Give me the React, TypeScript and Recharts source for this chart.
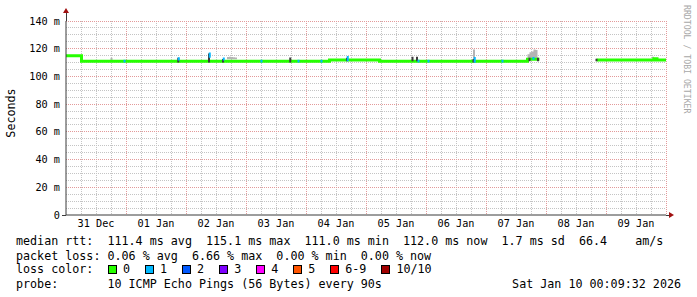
import React from 'react';
import { ComposedChart, Line, XAxis, YAxis, CartesianGrid } from 'recharts';

// time is in hours since 31 Dec 00:00, values in ms
const medianHours = [0, 6.2, 105.4, 125.4, 184.6, 189.4, 189.5, 212.2, 235.2, 236.4, 240];
const medianMs = [115, 110.9, 111.9, 110.9, 112.4, 112.4, null, 111.9, 112.8, 111.9, 111.9];

// grey smoke (ping spread) around the median
const smokeHours = [18.2, 64.8, 65.6, 66.4, 67.2, 68.0, 163.2, 185.0, 185.8, 186.6, 187.4, 188.2, 234.8];
const smokeLow = [111.8, 112.4, 112.4, 112.4, 112.4, 112.4, 112.0, 113.0, 113.0, 113.0, 113.0, 113.0, 113.0];
const smokeHigh = [113.5, 114.0, 114.2, 114.0, 113.8, 113.6, 119.5, 116.0, 117.5, 118.0, 119.5, 119.0, 114.2];

// dark smoke core
const darkHours = [44.9, 57.2, 62.8, 89.7, 112.4, 138.6, 140.4, 163.0, 185.4, 188.8, 212.2];
const darkLow = [110.0, 110.0, 110.0, 110.0, 111.0, 111.0, 111.0, 110.0, 111.0, 111.0, 111.0];
const darkHigh = [113.5, 116.5, 112.5, 113.6, 113.5, 114.2, 114.2, 112.5, 113.5, 113.5, 112.8];

// samples with 1/10 loss
const loss1Hours = [23.4, 45.1, 57.5, 63.1, 78.2, 93.0, 102.2, 112.7, 141.0, 145.0, 163.5, 174.6, 187.0];
const loss1Low = [110.0, 111.5, 113.5, 111.5, 110.0, 110.0, 110.0, 111.0, 110.0, 110.0, 109.8, 110.0, 112.0];
const loss1High = [112.0, 113.8, 117.2, 113.6, 112.0, 112.0, 112.0, 114.8, 112.0, 112.0, 114.0, 112.0, 114.0];

const yTicks = [0, 20, 40, 60, 80, 100, 120, 140];
const yMinor = [5, 10, 15, 25, 30, 35, 45, 50, 55, 65, 70, 75, 85, 90, 95, 105, 110, 115, 125, 130, 135];
const dayHours = [24, 48, 72, 96, 120, 144, 168, 192, 216, 240];
const sixHours = [6, 12, 18, 30, 36, 42, 54, 60, 66, 78, 84, 90, 102, 108, 114, 126, 132, 138, 150, 156, 162, 174, 180, 186, 198, 204, 210, 222, 228, 234];
const labelHours = [12, 36, 60, 84, 108, 132, 156, 180, 204, 228];
const dayLabels = ['31 Dec', '01 Jan', '02 Jan', '03 Jan', '04 Jan', '05 Jan', '06 Jan', '07 Jan', '08 Jan', '09 Jan'];

const lossLabels = ['0', '1', '2', '3', '4', '5', '6-9', '10/10'];
const lossColors = ['#26ff00', '#00b8ff', '#0059ff', '#7e00ff', '#ff00ff', '#ff5500', '#ff0000', '#a10000'];

const medianLine = 'median rtt:  111.4 ms avg  115.1 ms max  111.0 ms min  112.0 ms now  1.7 ms sd  66.4    am/s';
const lossLine = 'packet loss: 0.06 % avg  6.66 % max  0.00 % min  0.00 % now';
const probeText = '10 ICMP Echo Pings (56 Bytes) every 90s';
const stampText = 'Sat Jan 10 00:09:32 2026';

const mono = 'DejaVu Sans Mono, monospace';
const axisColor = '#3a3a3a';
const arrowColor = '#a01010';

const medianData = medianHours.map((h, i) => ({ h, ms: medianMs[i] }));

// each spike becomes a vertical segment (two points at the same time), split by a null
const spikes = (hours: number[], low: number[], high: number[]) =>
  hours.flatMap((h, i) => [
    { h, ms: low[i] },
    { h, ms: high[i] },
    { h, ms: null },
  ]);

const smokeData = spikes(smokeHours, smokeLow, smokeHigh);
const darkData = spikes(darkHours, darkLow, darkHigh);
const loss1Data = spikes(loss1Hours, loss1Low, loss1High);

const row: React.CSSProperties = {
  position: 'absolute',
  left: 16,
  fontFamily: mono,
  fontSize: 11.7,
  lineHeight: '14px',
  whiteSpace: 'pre',
  color: '#000',
};

const spikeLine = (data: object[], color: string, key: string) => (
  <Line
    key={key}
    data={data}
    dataKey="ms"
    type="linear"
    stroke={color}
    strokeWidth={2}
    dot={false}
    activeDot={false}
    connectNulls={false}
    isAnimationActive={false}
  />
);

export default function App() {
  return (
    <div style={{ position: 'absolute', left: 0, top: 0, width: 697, height: 297, background: '#fff', overflow: 'hidden' }}>
      <ComposedChart width={697} height={297} margin={{ top: 21, right: 31, bottom: 62, left: 0 }}>
        <CartesianGrid
          horizontalValues={yMinor}
          verticalValues={sixHours}
          stroke="#c4c4c4"
          strokeDasharray="1 1"
          shapeRendering="crispEdges"
        />
        <CartesianGrid
          horizontalValues={yTicks.slice(1)}
          verticalValues={dayHours}
          stroke="#e39a9a"
          strokeDasharray="1 1"
          shapeRendering="crispEdges"
        />
        <XAxis
          dataKey="h"
          type="number"
          domain={[0, 240]}
          ticks={labelHours}
          interval={0}
          tickFormatter={(v: number) => dayLabels[labelHours.indexOf(v)]}
          tick={{ fontSize: 10.2, fill: '#000', fontFamily: mono }}
          tickLine={false}
          tickSize={3}
          tickMargin={2}
          height={20}
          axisLine={{ stroke: axisColor }}
          allowDataOverflow
        />
        <YAxis
          type="number"
          domain={[0, 140]}
          ticks={yTicks}
          interval={0}
          width={66}
          tickFormatter={(v: number) => (v === 0 ? '0' : `${v} m`)}
          tick={{ fontSize: 10.2, fill: '#000', fontFamily: mono }}
          tickLine={false}
          tickSize={4}
          tickMargin={2}
          axisLine={{ stroke: axisColor }}
          allowDataOverflow
        />
        {spikeLine(smokeData, '#b4b4b4', 'smoke')}
        <Line
          data={medianData}
          dataKey="ms"
          type="stepAfter"
          stroke={lossColors[0]}
          strokeWidth={3}
          dot={false}
          activeDot={false}
          connectNulls={false}
          isAnimationActive={false}
        />
        {spikeLine(darkData, '#3c3c3c', 'dark')}
        {spikeLine(loss1Data, lossColors[1], 'loss1')}
      </ComposedChart>

      <svg width={697} height={297} style={{ position: 'absolute', left: 0, top: 0, pointerEvents: 'none' }}>
        <line x1={66} y1={13} x2={66} y2={21} stroke={axisColor} shapeRendering="crispEdges" />
        <polygon points="66,8 63,13 69,13" fill={arrowColor} />
        <line x1={62} y1={215} x2={66} y2={215} stroke={axisColor} shapeRendering="crispEdges" />
        <line x1={666} y1={215} x2={669} y2={215} stroke={axisColor} shapeRendering="crispEdges" />
        <polygon points="674,215 669,212 669,218" fill={arrowColor} />
      </svg>

      <div
        style={{
          position: 'absolute',
          left: 11,
          top: 113,
          transform: 'translate(-50%, -50%) rotate(-90deg)',
          fontFamily: mono,
          fontSize: 11.7,
          whiteSpace: 'pre',
          color: '#000',
        }}
      >
        Seconds
      </div>
      <div
        style={{
          position: 'absolute',
          left: 682,
          top: 5,
          writingMode: 'vertical-rl',
          fontFamily: mono,
          fontSize: 8.2,
          whiteSpace: 'pre',
          color: '#a8a8a8',
        }}
      >
        RRDTOOL / TOBI OETIKER
      </div>

      <div style={{ ...row, top: 234 }}>{medianLine}</div>
      <div style={{ ...row, top: 249 }}>{lossLine}</div>
      <div style={{ ...row, top: 262 }}>
        <span>{'loss color:'}</span>
        <span style={{ position: 'absolute', left: 92, top: 0, display: 'flex', alignItems: 'center', height: 14 }}>
          {lossLabels.map((l, i) => (
            <span key={l} style={{ display: 'flex', alignItems: 'center', marginRight: 15 }}>
              <span
                style={{
                  display: 'inline-block',
                  width: 7,
                  height: 7,
                  background: lossColors[i],
                  border: '1px solid #000',
                  marginRight: 6,
                }}
              />
              <span>{l}</span>
            </span>
          ))}
        </span>
      </div>
      <div style={{ ...row, top: 277 }}>
        {'probe:       ' + probeText}
      </div>
      <div style={{ ...row, left: undefined, right: 16, top: 277 }}>{stampText}</div>
    </div>
  );
}
